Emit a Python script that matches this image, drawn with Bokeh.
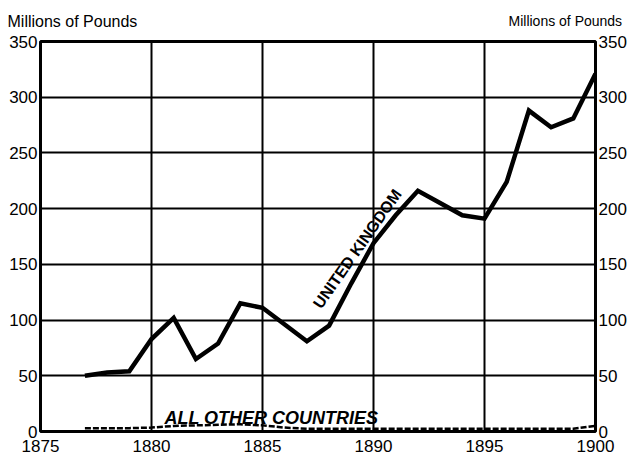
from bokeh.plotting import figure
from bokeh.models import Range1d, LinearAxis, FixedTicker, Label
from bokeh.embed import file_html
from bokeh.resources import INLINE

years = list(range(1877, 1901))
uk = [50, 53, 54, 83, 102, 65, 79, 115, 111, 96, 81, 95, 133, 169, 194, 216, 205, 194, 191, 224, 288, 273, 281, 321]
others = [3, 3, 3, 3.5, 5, 5.5, 6, 6.5, 5.5, 3.5, 2.5, 2.5, 2.5, 2.5, 2.5, 2.5, 2.5, 2.5, 2.5, 2.5, 2.5, 2.5, 2.5, 5]
x_ticks = [1875, 1880, 1885, 1890, 1895, 1900]
y_ticks = [0, 50, 100, 150, 200, 250, 300, 350]
unit_label = "Millions of Pounds"
uk_name = "UNITED KINGDOM"
others_name = "ALL OTHER COUNTRIES"

FONT = "'Liberation Sans', Arial, sans-serif"

p = figure(width=630, height=455, x_range=Range1d(1875, 1900), y_range=Range1d(0, 350),
           output_backend="svg", toolbar_location=None,
           min_border_left=40, min_border_right=35, min_border_top=41, min_border_bottom=24)
p.background_fill_color = "white"
p.border_fill_color = "white"
p.outline_line_color = "black"
p.outline_line_width = 3

p.xaxis.ticker = FixedTicker(ticks=x_ticks)
p.yaxis.ticker = FixedTicker(ticks=y_ticks)
p.xgrid.ticker = FixedTicker(ticks=x_ticks)
p.ygrid.ticker = FixedTicker(ticks=y_ticks)
for g in (p.xgrid, p.ygrid):
    g.grid_line_color = "black"
    g.grid_line_width = 2
    g.grid_line_alpha = 1

right = LinearAxis(ticker=FixedTicker(ticks=y_ticks))
p.add_layout(right, "right")

for ax in p.axis:
    ax.axis_line_color = None
    ax.major_tick_line_color = None
    ax.minor_tick_line_color = None
    ax.major_tick_out = 0
    ax.major_tick_in = 0
    ax.major_label_text_font = FONT
    ax.major_label_text_font_size = "17px"
    ax.major_label_text_color = "black"
    ax.major_label_standoff = 3
p.xaxis.major_label_standoff = 8

p.line(years, uk, line_color="black", line_width=4.5, line_join="miter")
p.line(years, others, line_color="black", line_width=2.5, line_dash="6 2")

p.add_layout(Label(x=-33, y=20, x_units="screen", y_units="screen", text=unit_label,
                   text_font=FONT, text_font_size="16px", text_color="black",
                   text_baseline="alphabetic"), "above")
p.add_layout(Label(x=468, y=4, x_units="screen", y_units="screen", text=unit_label,
                   text_font=FONT, text_font_size="14px", text_color="black",
                   text_baseline="alphabetic"), "above")

p.add_layout(Label(x=1885.4, y=12.5, text=others_name, text_font=FONT,
                   text_font_size="18px", text_font_style="bold italic", text_color="black",
                   text_align="center", text_baseline="alphabetic"))
p.add_layout(Label(x=1889.27, y=164, text=uk_name, text_font=FONT, angle=0.96,
                   text_font_size="16px", text_font_style="bold", text_color="black",
                   text_align="center", text_baseline="middle"))

open("out.html", "w").write(file_html(p, INLINE))
